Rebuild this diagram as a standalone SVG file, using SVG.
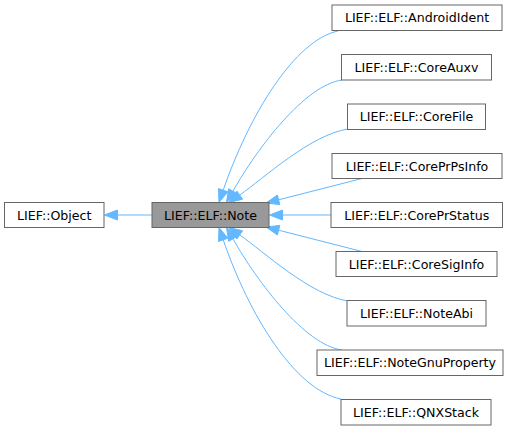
<svg xmlns="http://www.w3.org/2000/svg" width="521" height="431" viewBox="0 0 521 431">
<style>
.box{fill:#ffffff;stroke:#666666;stroke-width:1}
.cur{fill:#999999;stroke:#666666;stroke-width:1}
.lbl{font-family:"DejaVu Sans",sans-serif;font-size:12.6px;fill:#000000;text-anchor:middle}
.e{fill:none;stroke:#63b8ff;stroke-width:1}
.ah{fill:#63b8ff;stroke:#63b8ff;stroke-width:1}
</style>
<rect width="521" height="431" fill="#ffffff"/>
<g id="connectors">
<path class="e" d="M152,215 L117.5,215"/>
<polygon class="ah" points="104.5,215 117.5,210 117.5,220"/>
<path class="e" d="M338,31 C295,40 249.3,114.5 223.2,190.2"/>
<polygon class="ah" points="219,202.5 227.9,191.8 218.5,188.6"/>
<path class="e" d="M342,80 C305,85 257.6,147.7 232.9,191.2"/>
<polygon class="ah" points="226.5,202.5 237.3,193.7 228.6,188.7"/>
<path class="e" d="M348,129 C310,135 264.3,177.9 239.7,195.1"/>
<polygon class="ah" points="229,202.5 242.6,199.2 236.8,191"/>
<path class="e" d="M362,178.5 L278.6,199.8"/>
<polygon class="ah" points="266,203 279.8,204.6 277.4,195"/>
<path class="e" d="M331,215 L282.5,215"/>
<polygon class="ah" points="269.5,215 282.5,210 282.5,220"/>
<path class="e" d="M362,251.5 L278.6,230.2"/>
<polygon class="ah" points="266,227 277.4,235 279.8,225.4"/>
<path class="e" d="M348,301 C310,295 264.3,252.1 239.7,234.9"/>
<polygon class="ah" points="229,227.5 242.6,230.8 236.8,239"/>
<path class="e" d="M342,350 C305,345 257.6,282.3 232.9,238.8"/>
<polygon class="ah" points="226.5,227.5 237.3,236.3 228.6,241.3"/>
<path class="e" d="M341,399 C295,390 249.3,315.5 223.2,239.8"/>
<polygon class="ah" points="219,227.5 227.9,238.2 218.5,241.4"/>
</g>
<g id="node-object"><rect class="box" x="4.5" y="202.5" width="99.5" height="25"/><text class="lbl" x="54.25" y="219.5">LIEF::Object</text></g>
<g id="node-note"><rect class="cur" x="152" y="202.5" width="117" height="25"/><text class="lbl" x="210.5" y="219.5">LIEF::ELF::Note</text></g>
<g id="node-androidident"><rect class="box" x="332" y="5" width="170" height="25.5"/><text class="lbl" x="417" y="22.2">LIEF::ELF::AndroidIdent</text></g>
<g id="node-coreauxv"><rect class="box" x="341.5" y="54.5" width="150" height="25.5"/><text class="lbl" x="416.5" y="71.7">LIEF::ELF::CoreAuxv</text></g>
<g id="node-corefile"><rect class="box" x="347.5" y="104" width="138" height="25.5"/><text class="lbl" x="416.5" y="121.2">LIEF::ELF::CoreFile</text></g>
<g id="node-coreprpsinfo"><rect class="box" x="332" y="153.5" width="170" height="25"/><text class="lbl" x="417" y="170.5">LIEF::ELF::CorePrPsInfo</text></g>
<g id="node-coreprstatus"><rect class="box" x="331" y="202.5" width="171.5" height="25"/><text class="lbl" x="416.75" y="219.5">LIEF::ELF::CorePrStatus</text></g>
<g id="node-coresiginfo"><rect class="box" x="336" y="251.5" width="161" height="25"/><text class="lbl" x="416.5" y="268.5">LIEF::ELF::CoreSigInfo</text></g>
<g id="node-noteabi"><rect class="box" x="347" y="300.5" width="139" height="25.5"/><text class="lbl" x="416.5" y="317.7">LIEF::ELF::NoteAbi</text></g>
<g id="node-notegnuproperty"><rect class="box" x="317" y="350" width="186" height="25.5"/><text class="lbl" x="410" y="367.2">LIEF::ELF::NoteGnuProperty</text></g>
<g id="node-qnxstack"><rect class="box" x="341" y="399.5" width="150" height="25.5"/><text class="lbl" x="416" y="416.7">LIEF::ELF::QNXStack</text></g>
</svg>
